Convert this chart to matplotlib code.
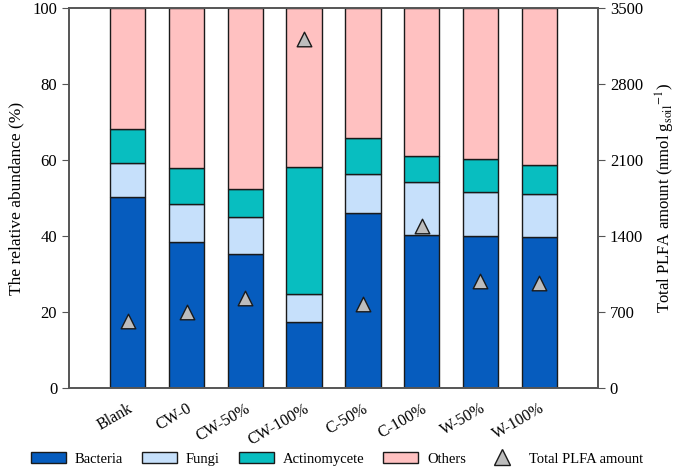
import matplotlib
matplotlib.use("Agg")
import matplotlib.pyplot as plt
import numpy as np
from matplotlib.patches import Patch
from matplotlib.lines import Line2D

plt.rcParams["font.family"] = ["Liberation Serif", "DejaVu Serif"]
plt.rcParams["mathtext.fontset"] = "stix"
plt.rcParams["font.size"] = 12

# Data
treatments = ["Blank", "CW-0", "CW-50%", "CW-100%", "C-50%", "C-100%", "W-50%", "W-100%"]
bacteria = [50.3, 38.3, 35.3, 17.3, 46.0, 40.3, 40.0, 39.7]
fungi = [8.9, 10.1, 9.6, 7.5, 10.4, 14.0, 11.5, 11.4]
actinomycete = [9.0, 9.6, 7.5, 33.4, 9.4, 6.8, 8.7, 7.5]
total_plfa = [620, 700, 830, 3210, 775, 1495, 985, 965]

colors = {
    "Bacteria": "#065cbe",
    "Fungi": "#c6e0fb",
    "Actinomycete": "#08bec0",
    "Others": "#ffc1c1",
}
spine_color = "#555555"

bacteria = np.array(bacteria)
fungi = np.array(fungi)
actinomycete = np.array(actinomycete)
others = 100 - bacteria - fungi - actinomycete

fig = plt.figure(figsize=(6.85, 4.72), dpi=100)
ax = fig.add_axes([69 / 685, (472 - 388) / 472, 529 / 685, 380 / 472])

x = np.arange(len(treatments))
w = 0.6
bottom = np.zeros(len(x))
for name, vals in [("Bacteria", bacteria), ("Fungi", fungi),
                   ("Actinomycete", actinomycete), ("Others", others)]:
    ax.bar(x, vals, w, bottom=bottom, color=colors[name],
           edgecolor="#1a1a1a", linewidth=1.0, zorder=2)
    bottom += vals

ax.set_xlim(-1, 8)
ax.set_ylim(0, 100)
ax.set_yticks(np.arange(0, 101, 20))
ax.set_xticks(x)
ax.set_xticklabels(treatments, rotation=30, ha="right", rotation_mode="anchor")
ax.tick_params(axis="x", length=0, pad=9, labelsize=11.5)
ax.tick_params(axis="y", direction="out", length=5, color=spine_color)
ax.set_ylabel("The relative abundance (%)", fontsize=12.5, labelpad=6)

ax2 = ax.twinx()
ax2.scatter(x, total_plfa, marker="^", s=110, color="#bdbdbd",
            edgecolor="#1a1a1a", linewidth=1.0, zorder=3)
ax2.set_ylim(0, 3500)
ax2.set_yticks(np.arange(0, 3501, 700))
ax2.tick_params(axis="y", direction="out", length=5, color=spine_color)
ax2.set_ylabel(r"Total PLFA amount (nmol g$_{\rm soil}$$^{-1}$)", fontsize=12,
               labelpad=8)

for a in (ax, ax2):
    for s in a.spines.values():
        s.set_color(spine_color)
        s.set_linewidth(1.2)

handles = [Patch(facecolor=colors[n], edgecolor="#1a1a1a", label=n)
           for n in ["Bacteria", "Fungi", "Actinomycete", "Others"]]
handles.append(Line2D([], [], marker="^", linestyle="none", markersize=11,
                      markerfacecolor="#bdbdbd", markeredgecolor="#1a1a1a",
                      label="Total PLFA amount"))
fig.legend(handles=handles, loc="center", bbox_to_anchor=(337 / 685, 1 - 459 / 472),
           ncol=5, frameon=False, handlelength=2.4, handleheight=0.75,
           columnspacing=1.3, handletextpad=0.6, fontsize=10.5)

fig.savefig("out.png", dpi=100)
